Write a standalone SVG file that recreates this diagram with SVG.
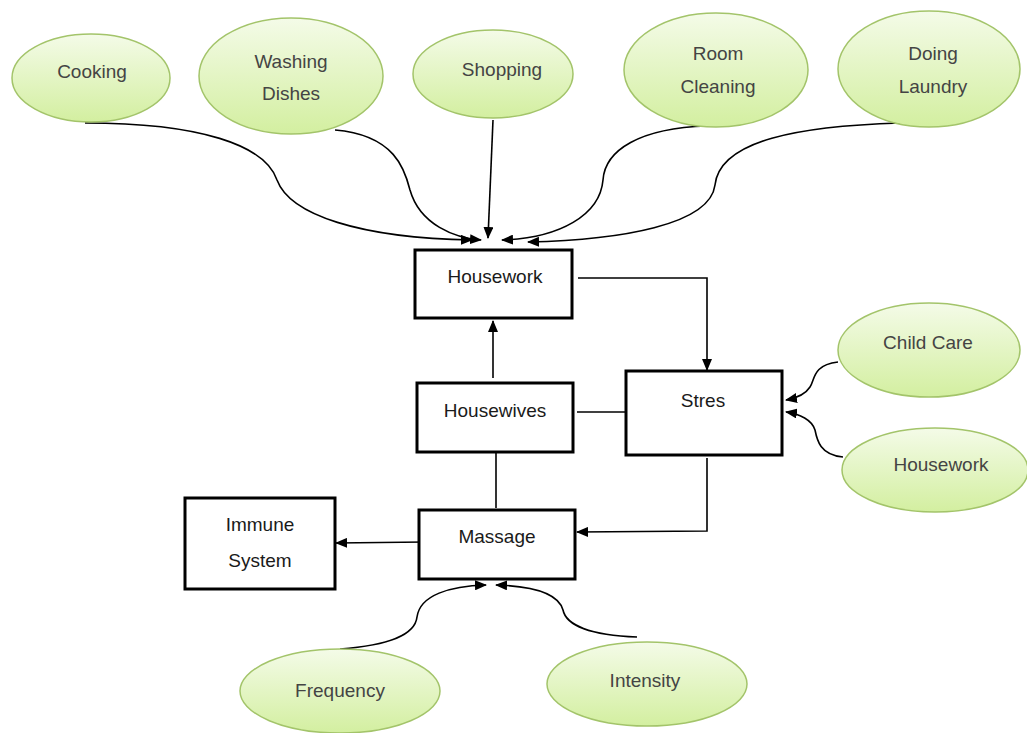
<svg xmlns="http://www.w3.org/2000/svg" width="1027" height="733" viewBox="0 0 1027 733">
<style>
.ell{fill:url(#g);stroke:#a3c46a;stroke-width:1.5}
.box{fill:#fff;stroke:#000;stroke-width:3}
.et{font-family:"Liberation Sans",Arial,sans-serif;font-size:19px;fill:#444;text-anchor:middle}
.bt{font-family:"Liberation Sans",Arial,sans-serif;font-size:19px;fill:#1a1a1a;text-anchor:middle}
.c{fill:none;stroke:#000;stroke-width:1.6}
.a{marker-end:url(#ah)}
</style>
<defs>
<linearGradient id="g" x1="0" y1="0" x2="0" y2="1">
<stop offset="0" stop-color="#f4fbe8"/>
<stop offset="1" stop-color="#d3efa0"/>
</linearGradient>
<marker id="ah" markerWidth="12" markerHeight="10" refX="11" refY="5" orient="auto" markerUnits="userSpaceOnUse">
<path d="M0,0 L12,5 L0,10 Z" fill="#000"/>
</marker>
</defs>
<g id="connectors">
<path class="c a" d="M85,123 C200,123 265,145 277,180 C290,215 360,238 472,240"/>
<path class="c a" d="M335,130 C395,135 405,170 410,190 C420,225 455,238 481,240"/>
<path class="c a" d="M493,120 L488,238"/>
<path class="c a" d="M707,126 C640,128 605,150 603,180 C600,215 560,238 502,240"/>
<path class="c a" d="M900,123 C800,126 720,140 715,185 C710,225 620,240 528,242"/>
<path class="c a" d="M578,278 L707,278 L707,370"/>
<path class="c a" d="M493,378 L493,321"/>
<path class="c" d="M577,412 L630,412"/>
<path class="c" d="M496,453 L496,508"/>
<path class="c a" d="M707,458 L707,531 L577,532"/>
<path class="c a" d="M425,542 L336,543"/>
<path class="c a" d="M340,649 C390,645 415,635 417,617 C420,595 450,586 486,585"/>
<path class="c a" d="M637,637 C590,635 566,625 563,610 C558,592 530,586 496,585"/>
<path class="c a" d="M838,362 C812,365 815,380 810,387 C805,395 797,398 786,400"/>
<path class="c a" d="M843,457 C820,455 817,440 815,430 C812,420 800,414 786,412"/>
</g>
<g id="n-cooking"><ellipse class="ell" cx="91" cy="78" rx="79" ry="44"/><text class="et" x="92" y="78">Cooking</text></g>
<g id="n-washing"><ellipse class="ell" cx="291" cy="76" rx="92" ry="58"/><text class="et" x="291" y="68">Washing</text><text class="et" x="291" y="100">Dishes</text></g>
<g id="n-shopping"><ellipse class="ell" cx="493" cy="74" rx="80" ry="44"/><text class="et" x="502" y="76">Shopping</text></g>
<g id="n-room"><ellipse class="ell" cx="716" cy="70" rx="92" ry="57"/><text class="et" x="718" y="60">Room</text><text class="et" x="718" y="93">Cleaning</text></g>
<g id="n-laundry"><ellipse class="ell" cx="929" cy="69" rx="91" ry="58"/><text class="et" x="933" y="60">Doing</text><text class="et" x="933" y="93">Laundry</text></g>
<g id="n-childcare"><ellipse class="ell" cx="929" cy="350" rx="91" ry="47"/><text class="et" x="928" y="349">Child Care</text></g>
<g id="n-housework2"><ellipse class="ell" cx="935" cy="470" rx="93" ry="42"/><text class="et" x="941" y="471">Housework</text></g>
<g id="n-frequency"><ellipse class="ell" cx="340" cy="691" rx="100" ry="42"/><text class="et" x="340" y="697">Frequency</text></g>
<g id="n-intensity"><ellipse class="ell" cx="647" cy="684" rx="100" ry="42"/><text class="et" x="645" y="687">Intensity</text></g>
<g id="n-housework"><rect class="box" x="415" y="250" width="157" height="68"/><text class="bt" x="495" y="283">Housework</text></g>
<g id="n-housewives"><rect class="box" x="417" y="383" width="156" height="69"/><text class="bt" x="495" y="417">Housewives</text></g>
<g id="n-stres"><rect class="box" x="626" y="371" width="156" height="84"/><text class="bt" x="703" y="407">Stres</text></g>
<g id="n-massage"><rect class="box" x="419" y="510" width="156" height="69"/><text class="bt" x="497" y="543">Massage</text></g>
<g id="n-immune"><rect class="box" x="185" y="498" width="150" height="91"/><text class="bt" x="260" y="531">Immune</text><text class="bt" x="260" y="567">System</text></g>
</svg>
